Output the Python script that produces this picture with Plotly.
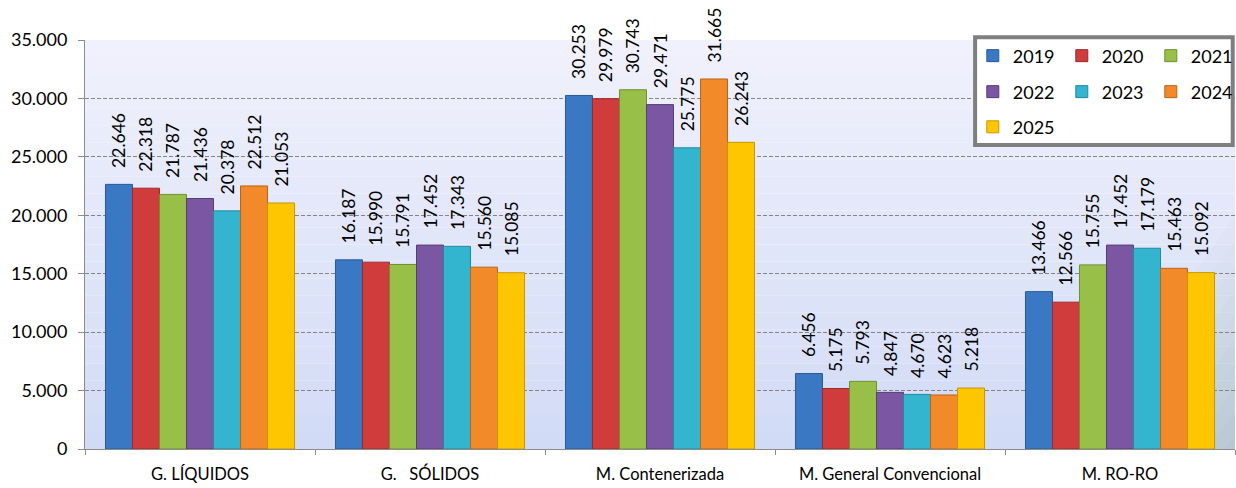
import plotly.graph_objects as go

categories = ["G. LÍQUIDOS", "G.   SÓLIDOS", "M. Contenerizada", "M. General Convencional", "M. RO-RO"]
years = ["2019", "2020", "2021", "2022", "2023", "2024", "2025"]
values = {
    "2019": [22646, 16187, 30253, 6456, 13466],
    "2020": [22318, 15990, 29979, 5175, 12566],
    "2021": [21787, 15791, 30743, 5793, 15755],
    "2022": [21436, 17452, 29471, 4847, 17452],
    "2023": [20378, 17343, 25775, 4670, 17179],
    "2024": [22512, 15560, 31665, 4623, 15463],
    "2025": [21053, 15085, 26243, 5218, 15092],
}
colors = ["#3b78c3", "#d03b3c", "#98bf47", "#7a56a3", "#33b4cf", "#f28a2a", "#fec600"]
lines = ["#2a5a96", "#9c2a2a", "#6f8f32", "#573d78", "#2489a0", "#b8651c", "#c79700"]
legend_of = ["legend", "legend", "legend", "legend2", "legend2", "legend2", "legend3"]

FONT = "Lato"
NB = "\u00a0"
fig = go.Figure()
for i, yr in enumerate(years):
    fig.add_trace(go.Bar(
        name=yr, x=categories, y=values[yr],
        marker=dict(color=colors[i], line=dict(color=lines[i], width=1)),
        text=values[yr], texttemplate=NB * 3 + "%{y:,.0f}", textposition="outside",
        textangle=-90, constraintext="none", cliponaxis=False,
        textfont=dict(family=FONT, size=17.5, color="black"),
        legend=legend_of[i],
    ))

# background gradient bands
n = 24
top = (240, 241, 252)
bot = (210, 219, 246)
for k in range(n):
    t = k / (n - 1)
    c = tuple(int(round(top[j] + (bot[j] - top[j]) * t)) for j in range(3))
    fig.add_shape(type="rect", xref="paper", yref="paper", x0=0, x1=1,
                  y0=1 - (k + 1) / n, y1=1 - k / n, layer="below",
                  line=dict(width=0), fillcolor="rgb(%d,%d,%d)" % c)
# soft greenish tint toward bottom-right corner
m = 10
for k in range(m):
    f = (k + 1) / m
    xs = 0.84 + 0.15 * f
    ys = 0.60 * (1 - f) + 0.03
    fig.add_shape(type="path", xref="paper", yref="paper",
                  path="M %f,0 L 1,0 L 1,%f Z" % (xs, ys), layer="below",
                  line=dict(width=0), fillcolor="rgba(140,165,130,0.035)")

# legend box
fig.add_shape(type="rect", xref="paper", yref="paper", x0=0.774, x1=0.998,
              y0=0.743, y1=1.007, layer="above",
              line=dict(color="#7f7f7f", width=4), fillcolor="white")

leg_common = dict(orientation="h", xanchor="left", yanchor="middle", x=0.772,
                  bgcolor="rgba(0,0,0,0)", borderwidth=0,
                  font=dict(family=FONT, size=18, color="black"),
                  entrywidth=44, entrywidthmode="pixels", traceorder="normal")

fig.update_layout(
    width=1236, height=488,
    margin=dict(l=85, r=1, t=40, b=39, pad=0, autoexpand=False),
    paper_bgcolor="white", plot_bgcolor="rgba(0,0,0,0)",
    separators=",.",
    barmode="group", bargap=0.178, bargroupgap=0,
    font=dict(family=FONT, size=15, color="black"),
    legend=dict(y=0.961, **leg_common),
    legend2=dict(y=0.873, **leg_common),
    legend3=dict(y=0.787, **leg_common),
    xaxis=dict(showline=True, linecolor="#8c8c8c", linewidth=1,
               ticks="outside", tickson="boundaries", ticklen=5, tickcolor="#8c8c8c",
               ticklabelstandoff=10,
               tickfont=dict(family=FONT, size=16.5, color="black"), showgrid=False),
    yaxis=dict(range=[0, 35000], dtick=5000, tickformat=",d",
               showline=True, linecolor="#8c8c8c", linewidth=1,
               ticks="outside", ticklen=6, tickcolor="#8c8c8c",
               ticklabelstandoff=7,
               showgrid=True, gridcolor="#858585", griddash="4px,2px", gridwidth=1,
               zeroline=False,
               tickfont=dict(family=FONT, size=18, color="black")),
)

fig.write_html("out.html")
